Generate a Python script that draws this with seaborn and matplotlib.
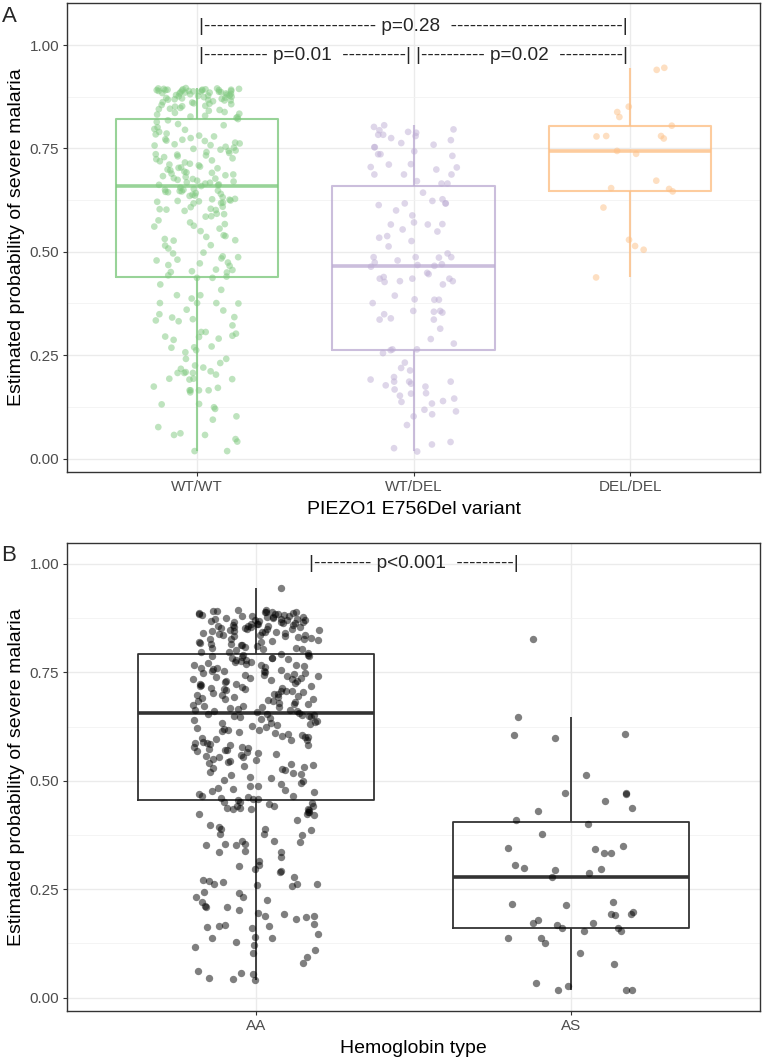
import numpy as np
import pandas as pd
import matplotlib
matplotlib.use('Agg')
import matplotlib.pyplot as plt
import seaborn as sns
from matplotlib.ticker import MultipleLocator, FormatStrFormatter

sns.set_style('white')
plt.rcParams['font.family'] = ['Liberation Sans', 'DejaVu Sans']

# ---- panel A : PIEZO1 E756Del ----
genotypes = ['WT/WT', 'WT/DEL', 'DEL/DEL']
genotype_colors = ['#7FC97F', '#BEAED4', '#FDC086']

# WT/WT (below Q1 / box / above Q3)
wt_low = [0.421, 0.408, 0.387, 0.376, 0.375, 0.395, 0.376, 0.376, 0.395, 0.437,
          0.437, 0.358, 0.360, 0.349, 0.332, 0.322, 0.341, 0.337, 0.342, 0.334,
          0.306, 0.302, 0.287, 0.306, 0.297, 0.295, 0.294, 0.290, 0.271, 0.269,
          0.268, 0.262, 0.241, 0.225, 0.257, 0.241, 0.231, 0.217, 0.220, 0.207,
          0.207, 0.207, 0.211, 0.209, 0.193, 0.203, 0.191, 0.192, 0.193, 0.171,
          0.160, 0.165, 0.165, 0.165, 0.165, 0.174, 0.131, 0.120, 0.132, 0.124,
          0.102, 0.094, 0.076, 0.061, 0.057, 0.057, 0.041, 0.047, 0.018, 0.018]
wt_midlow = [0.440,
             0.650, 0.655, 0.652, 0.648, 0.642, 0.645, 0.650, 0.646, 0.647, 0.644,
             0.635, 0.638, 0.640, 0.632, 0.622, 0.617, 0.618, 0.624, 0.627, 0.619,
             0.628, 0.621, 0.626, 0.623, 0.636,
             0.609, 0.601, 0.602, 0.604, 0.603, 0.599, 0.591, 0.608, 0.585, 0.592,
             0.567, 0.556, 0.561, 0.571, 0.563, 0.576, 0.550, 0.536, 0.538,
             0.528, 0.531, 0.527, 0.516, 0.515, 0.496, 0.498, 0.508,
             0.484, 0.474, 0.479, 0.472, 0.489, 0.487, 0.481, 0.468, 0.466, 0.456,
             0.451, 0.453, 0.457, 0.450, 0.443, 0.586, 0.540]
wt_midhigh = [0.659,
              0.818, 0.814, 0.809, 0.806, 0.801, 0.797, 0.795, 0.790, 0.786, 0.784,
              0.781, 0.779, 0.775, 0.772, 0.771, 0.768, 0.764, 0.762, 0.760, 0.757,
              0.754, 0.752, 0.749, 0.747, 0.744, 0.741, 0.739, 0.736, 0.735, 0.731,
              0.729, 0.726, 0.724, 0.721, 0.719, 0.716, 0.713, 0.711, 0.709, 0.706,
              0.704, 0.702, 0.699, 0.697, 0.694, 0.692, 0.689, 0.687, 0.685, 0.683,
              0.681, 0.678, 0.676, 0.674, 0.672, 0.670, 0.668, 0.667, 0.665, 0.663,
              0.662, 0.661, 0.745, 0.733, 0.703, 0.691, 0.677, 0.758, 0.769]
wt_top = [0.821,
          0.824, 0.827, 0.829, 0.832, 0.834, 0.838, 0.841, 0.843, 0.846, 0.848,
          0.851, 0.853, 0.855, 0.857, 0.859, 0.861, 0.862, 0.864, 0.866, 0.867,
          0.869, 0.870, 0.872, 0.873, 0.874, 0.876, 0.877, 0.878, 0.879, 0.880,
          0.881, 0.882, 0.883, 0.884, 0.885, 0.886, 0.887, 0.887, 0.888, 0.889,
          0.889, 0.890, 0.890, 0.891, 0.891, 0.892, 0.892, 0.893, 0.893, 0.894,
          0.894, 0.895, 0.895, 0.896, 0.885, 0.878, 0.871, 0.866, 0.858, 0.852,
          0.845, 0.836, 0.826, 0.889, 0.892, 0.883, 0.875, 0.868, 0.886, 0.891]

wt_del = [0.796, 0.788, 0.802, 0.770, 0.763, 0.759, 0.780, 0.783, 0.794, 0.783,
          0.806, 0.753, 0.753, 0.732, 0.736, 0.743, 0.736, 0.711, 0.699, 0.687,
          0.712, 0.705, 0.704, 0.687, 0.687, 0.671, 0.665, 0.665, 0.643, 0.617,
          0.627, 0.617, 0.617, 0.623, 0.613, 0.600, 0.588, 0.571, 0.567, 0.566,
          0.566, 0.554, 0.549, 0.538, 0.526, 0.534, 0.513, 0.487, 0.479, 0.496,
          0.487, 0.487, 0.486, 0.474, 0.470, 0.464, 0.446, 0.427, 0.429, 0.429,
          0.435, 0.449, 0.466, 0.435, 0.421, 0.435, 0.439, 0.468, 0.394, 0.384,
          0.376, 0.385, 0.384, 0.355, 0.336, 0.353, 0.339, 0.357, 0.357, 0.349,
          0.336, 0.314, 0.289, 0.278, 0.264, 0.262, 0.255, 0.264, 0.232, 0.219,
          0.213, 0.197, 0.191, 0.181, 0.186, 0.186, 0.186, 0.177, 0.174, 0.158,
          0.167, 0.157, 0.145, 0.152, 0.133, 0.139, 0.137, 0.114, 0.118, 0.102,
          0.107, 0.081, 0.034, 0.025, 0.040, 0.017, 0.775, 0.790]

del_del = [0.945, 0.940, 0.851, 0.838, 0.826, 0.805, 0.779, 0.774, 0.780, 0.780,
           0.744, 0.737, 0.672, 0.652, 0.646, 0.654, 0.607, 0.529, 0.514, 0.505,
           0.438]

# ---- panel B : hemoglobin type ----
hb_types = ['AA', 'AS']

aa_low = [0.442, 0.427, 0.429, 0.448, 0.433, 0.421, 0.423, 0.436, 0.438, 0.435,
          0.434, 0.441, 0.446, 0.443, 0.437, 0.424, 0.410, 0.397, 0.452, 0.450,
          0.377, 0.378, 0.388, 0.390, 0.386, 0.360, 0.352, 0.336, 0.354, 0.361,
          0.362, 0.355, 0.353, 0.393, 0.375, 0.337, 0.338, 0.324, 0.307, 0.315,
          0.304, 0.297,
          0.262, 0.257, 0.263, 0.269, 0.259, 0.242, 0.244, 0.231, 0.221, 0.266,
          0.279, 0.290, 0.291, 0.272, 0.261, 0.233, 0.212, 0.208, 0.188, 0.186,
          0.165, 0.167, 0.171, 0.189, 0.202, 0.160,
          0.209, 0.226, 0.194, 0.195, 0.182, 0.164, 0.166, 0.146, 0.138, 0.140,
          0.137, 0.129, 0.110, 0.121, 0.102, 0.094, 0.116, 0.080, 0.046, 0.056,
          0.040, 0.055, 0.061, 0.043]
aa_midlow = [0.456, 0.652, 0.649, 0.655, 0.646, 0.651, 0.648, 0.653, 0.644, 0.650,
             0.641, 0.638, 0.636, 0.642, 0.633, 0.629, 0.631, 0.627, 0.624, 0.634,
             0.620, 0.618, 0.615, 0.622, 0.612, 0.609, 0.616, 0.605, 0.603, 0.611,
             0.600, 0.598, 0.596, 0.601, 0.593, 0.590, 0.594, 0.588, 0.585, 0.587,
             0.582, 0.579, 0.583, 0.576, 0.574, 0.571, 0.577, 0.568, 0.566, 0.563,
             0.570, 0.560, 0.557, 0.561, 0.554, 0.551, 0.548, 0.555, 0.545, 0.542,
             0.539, 0.544, 0.536, 0.533, 0.530, 0.528, 0.525, 0.531, 0.521, 0.518,
             0.515, 0.513, 0.508, 0.507, 0.501, 0.499, 0.493, 0.495, 0.487, 0.489,
             0.483, 0.481, 0.478, 0.474, 0.476, 0.469, 0.466, 0.463, 0.465, 0.461,
             0.459, 0.457]
aa_midhigh = [0.657, 0.661, 0.663, 0.659, 0.666, 0.668, 0.664, 0.671, 0.673, 0.669,
              0.676, 0.678, 0.674, 0.681, 0.683, 0.679, 0.686, 0.688, 0.684, 0.691,
              0.693, 0.689, 0.696, 0.698, 0.694, 0.701, 0.703, 0.699, 0.706, 0.708,
              0.704, 0.711, 0.713, 0.709, 0.716, 0.718, 0.714, 0.721, 0.723, 0.719,
              0.726, 0.728, 0.724, 0.731, 0.733, 0.729, 0.736, 0.738, 0.734, 0.741,
              0.743, 0.739, 0.746, 0.748, 0.744, 0.751, 0.753, 0.749, 0.756, 0.758,
              0.754, 0.761, 0.763, 0.759, 0.766, 0.768, 0.764, 0.771, 0.773, 0.769,
              0.776, 0.778, 0.774, 0.781, 0.783, 0.779, 0.786, 0.788, 0.784, 0.790,
              0.789, 0.662, 0.697, 0.712, 0.735, 0.752, 0.767, 0.782, 0.672, 0.707,
              0.742, 0.787]
aa_top = [0.792, 0.795, 0.798, 0.801, 0.797, 0.804, 0.807, 0.803, 0.810, 0.806,
          0.813, 0.816, 0.812, 0.819, 0.815, 0.822, 0.818, 0.825, 0.821, 0.828,
          0.831, 0.827, 0.834, 0.830, 0.837, 0.833, 0.840, 0.836, 0.843, 0.839,
          0.846, 0.842, 0.849, 0.845, 0.852, 0.848, 0.855, 0.851, 0.858, 0.854,
          0.861, 0.857, 0.864, 0.860, 0.867, 0.863, 0.870, 0.866, 0.873, 0.869,
          0.876, 0.872, 0.879, 0.875, 0.882, 0.878, 0.885, 0.881, 0.888, 0.884,
          0.891, 0.887, 0.894, 0.890, 0.886, 0.893, 0.889, 0.883, 0.877, 0.871,
          0.865, 0.859, 0.853, 0.847, 0.841, 0.835, 0.880, 0.874, 0.868, 0.862,
          0.856, 0.850, 0.892, 0.888, 0.884, 0.878, 0.870, 0.862, 0.855, 0.844,
          0.826, 0.808, 0.944]

hb_as = [0.826, 0.647, 0.609, 0.598, 0.605, 0.514,
         0.472, 0.453, 0.438, 0.469, 0.472, 0.430, 0.410, 0.378, 0.400, 0.349,
         0.344, 0.333, 0.334, 0.343, 0.299, 0.306, 0.297, 0.287, 0.294, 0.278,
         0.217, 0.197, 0.220, 0.192, 0.193, 0.214, 0.191, 0.173, 0.173, 0.179,
         0.167, 0.160, 0.160, 0.154, 0.153, 0.126, 0.138, 0.138, 0.103, 0.078,
         0.035, 0.027, 0.017, 0.017, 0.017]

bracket_a = [(1.0, 1.046, '|' + '-' * 27 + ' p=0.28  ' + '-' * 27 + '|'),
             (0.5, 0.975, '|' + '-' * 10 + ' p=0.01  ' + '-' * 10 + '|'),
             (1.5, 0.975, '|' + '-' * 10 + ' p=0.02  ' + '-' * 10 + '|')]
bracket_b = [(0.5, 1.0, '|' + '-' * 9 + ' p<0.001  ' + '-' * 9 + '|')]

wt_wt = wt_low + wt_midlow + wt_midhigh + wt_top
aa = aa_low + aa_midlow + aa_midhigh + aa_top

dfA = pd.DataFrame({
    'genotype': ['WT/WT'] * len(wt_wt) + ['WT/DEL'] * len(wt_del) + ['DEL/DEL'] * len(del_del),
    'prob': wt_wt + wt_del + del_del,
})
dfB = pd.DataFrame({
    'hb': ['AA'] * len(aa) + ['AS'] * len(hb_as),
    'prob': aa + hb_as,
})


def style_axis(ax, xlim, ylim, xlabel):
    ax.set_xlim(*xlim)
    ax.set_ylim(*ylim)
    ax.set_yticks([0, 0.25, 0.5, 0.75, 1.0])
    ax.yaxis.set_major_formatter(FormatStrFormatter('%.2f'))
    ax.yaxis.set_minor_locator(MultipleLocator(0.125))
    ax.set_axisbelow(True)
    ax.grid(which='major', color='#EBEBEB', linewidth=1.0)
    ax.grid(which='minor', axis='y', color='#F2F2F2', linewidth=0.6)
    ax.tick_params(which='major', direction='out', length=3.2, width=0.8,
                   color='#333333', labelcolor='#4D4D4D', labelsize=11, pad=2.5,
                   bottom=True, left=True)
    ax.tick_params(which='minor', length=0)
    for sp in ax.spines.values():
        sp.set_color('#333333')
        sp.set_linewidth(1.0)
    ax.set_xlabel(xlabel, fontsize=14, color='black')
    ax.set_ylabel('Estimated probability of severe malaria', fontsize=14, color='black')
    ax.xaxis.set_label_coords(0.5, -0.063)
    ax.yaxis.set_label_coords(-0.060, 0.5)


fig = plt.figure(figsize=(7.62, 10.63), dpi=100)
axA = fig.add_axes([0.088, 0.5562, 0.9094, 0.4407])
axB = fig.add_axes([0.088, 0.0492, 0.9094, 0.4403])

np.random.seed(7)

# panel A
line_a = {'alpha': 0.8}
sns.boxplot(data=dfA, x='genotype', y='prob', hue='genotype', order=genotypes,
            hue_order=genotypes, palette=genotype_colors, fill=False, width=0.75,
            showfliers=False, showcaps=False, linewidth=1.5,
            boxprops=line_a, whiskerprops=line_a,
            medianprops={'linewidth': 2.6, 'alpha': 0.8}, legend=False, ax=axA)
sns.stripplot(data=dfA, x='genotype', y='prob', hue='genotype', order=genotypes,
              hue_order=genotypes, palette=genotype_colors, jitter=0.2, size=4.8,
              alpha=0.5, linewidth=0, legend=False, ax=axA)
style_axis(axA, (-0.6, 2.6), (-0.032, 1.101), 'PIEZO1 E756Del variant')
for x, y, s in bracket_a:
    axA.text(x, y, s, ha='center', va='center', fontsize=13.7)

# panel B
sns.boxplot(data=dfB, x='hb', y='prob', order=hb_types, color='#333333', fill=False,
            width=0.75, showfliers=False, showcaps=False, linewidth=1.3,
            medianprops={'linewidth': 2.6}, ax=axB)
sns.stripplot(data=dfB, x='hb', y='prob', order=hb_types, color='black', jitter=0.2,
              size=5.3, alpha=0.5, linewidth=0, ax=axB)
style_axis(axB, (-0.6, 1.6), (-0.030, 1.049), 'Hemoglobin type')
for x, y, s in bracket_b:
    axB.text(x, y, s, ha='center', va='center', fontsize=13.7)

fig.text(0.002, 0.9793, 'A', fontsize=16, va='baseline', ha='left')
fig.text(0.002, 0.4722, 'B', fontsize=16, va='baseline', ha='left')

fig.savefig('out.png', dpi=100)
